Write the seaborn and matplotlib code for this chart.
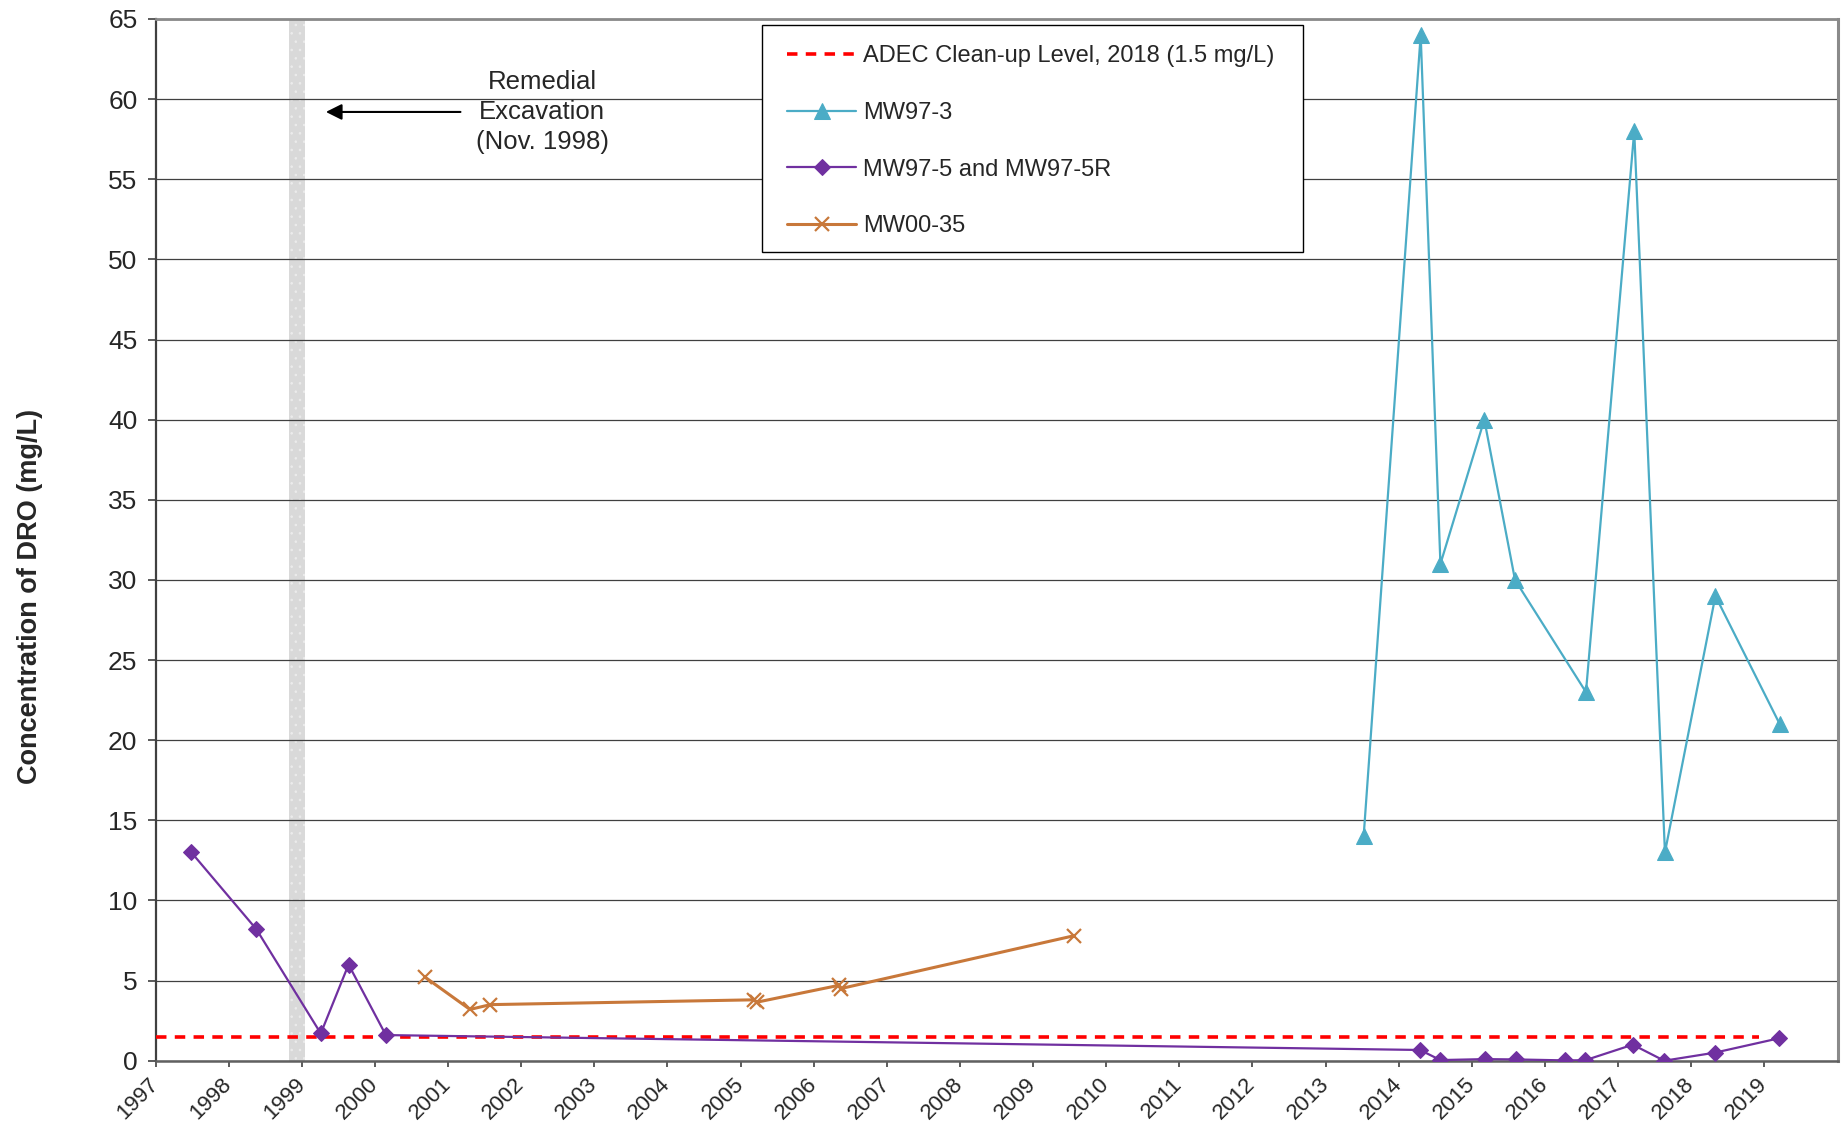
import numpy as np
import pandas as pd
import matplotlib
matplotlib.use("Agg")
import matplotlib.pyplot as plt
from matplotlib.patches import Rectangle
from matplotlib.transforms import ScaledTranslation
import seaborn as sns

# ---------------- data (decimal years, mg/L) ----------------
mw97_3_dates = [2013.52, 2014.30, 2014.57, 2015.17, 2015.59, 2016.56, 2017.22, 2017.64, 2018.33, 2019.21]
mw97_3_dro = [14, 64, 31, 40, 30, 23, 58, 13, 29, 21]

mw97_5_dates = [1997.49, 1998.38, 1999.26, 1999.64, 2000.15, 2014.29, 2014.57, 2015.18,
                2015.60, 2016.28, 2016.55, 2017.20, 2017.63, 2018.32, 2019.20]
mw97_5_dro = [13.0, 8.2, 1.7, 6.0, 1.6, 0.67, 0.04, 0.1, 0.08, 0.02, 0.03, 1.0, 0.0, 0.5, 1.4]

mw00_35_dates = [2000.69, 2001.30, 2001.58, 2005.18, 2005.22, 2006.34, 2006.37, 2009.56]
mw00_35_dro = [5.2, 3.2, 3.5, 3.8, 3.65, 4.7, 4.5, 7.8]

cleanup_level = 1.5
cleanup_dates = [1997.0, 2018.92]
excavation_span = [1998.82, 1999.05]

year_ticks = list(range(1997, 2020))
y_ticks = list(range(0, 70, 5))

label_cleanup = "ADEC Clean-up Level, 2018 (1.5 mg/L)"
label_3 = "MW97-3"
label_5 = "MW97-5 and MW97-5R"
label_35 = "MW00-35"

# ---------------- styling ----------------
sns.set_style("white")
plt.rcParams["font.family"] = ["Liberation Sans", "DejaVu Sans"]
plt.rcParams["hatch.linewidth"] = 0.6

c_cyan = "#4BACC6"
c_purple = "#7030A0"
c_orange = "#C8783A"
c_red = "#FF0000"

fig = plt.figure(figsize=(18.49, 11.24), dpi=100)
ax = fig.add_axes([0.0841, 0.0563, 0.9097, 0.9268])

ax.axvspan(excavation_span[0], excavation_span[1], facecolor="#d9d9d9", edgecolor="#ececec",
           hatch="..", lw=0, zorder=0.5)

df_clean = pd.DataFrame({"date": cleanup_dates, "dro": [cleanup_level] * len(cleanup_dates)})
df3 = pd.DataFrame({"date": mw97_3_dates, "dro": mw97_3_dro})
df5 = pd.DataFrame({"date": mw97_5_dates, "dro": mw97_5_dro})
df35 = pd.DataFrame({"date": mw00_35_dates, "dro": mw00_35_dro})

sns.lineplot(data=df_clean, x="date", y="dro", ax=ax, color=c_red, lw=2.6,
             dashes=False, estimator=None, sort=False, label=label_cleanup, zorder=3)
ax.lines[-1].set_dashes((2.9, 2.3))
sns.lineplot(data=df3, x="date", y="dro", ax=ax, color=c_cyan, lw=1.6, marker="^",
             markersize=11, markeredgecolor=c_cyan, estimator=None, sort=False,
             label=label_3, zorder=4)
sns.lineplot(data=df5, x="date", y="dro", ax=ax, color=c_purple, lw=1.6, marker="D",
             markersize=8.5, markeredgecolor=c_purple, estimator=None, sort=False,
             label=label_5, zorder=4)
sns.lineplot(data=df35, x="date", y="dro", ax=ax, color=c_orange, lw=2.2, marker="x",
             markersize=10, markeredgewidth=1.6, markeredgecolor=c_orange,
             markerfacecolor=c_orange, estimator=None, sort=False,
             label=label_35, zorder=4)

# axes
ax.set_xlim(1997, 2020)
ax.set_ylim(0, 65)
ax.set_xticks(year_ticks)
ax.set_xticklabels([str(y) for y in year_ticks], rotation=45, ha="right", va="center",
                   rotation_mode="anchor", fontsize=16)
offset = ScaledTranslation(-2 / 72, 0, fig.dpi_scale_trans)
for lab in ax.get_xticklabels():
    lab.set_transform(lab.get_transform() + offset)
ax.set_yticks(y_ticks)
ax.set_yticklabels([str(v) for v in y_ticks], fontsize=19)
ax.tick_params(axis="y", direction="out", length=6, width=1.2, color="#404040", pad=7, left=True)
ax.tick_params(axis="x", direction="out", length=4.5, width=1.2, color="#404040", pad=10, bottom=True)

ax.yaxis.grid(True, color="#404040", lw=0.9)
ax.xaxis.grid(False)
ax.set_axisbelow(True)

ax.spines["left"].set_color("#404040"); ax.spines["left"].set_linewidth(1.6)
ax.spines["bottom"].set_color("#606060"); ax.spines["bottom"].set_linewidth(1.8)
ax.spines["top"].set_color("#8a8a8a"); ax.spines["top"].set_linewidth(2.0)
ax.spines["right"].set_color("#8a8a8a"); ax.spines["right"].set_linewidth(2.2)

ax.set_xlabel("")
ax.set_ylabel("Concentration of DRO (mg/L)", fontsize=19.5, fontweight="bold")
ax.yaxis.set_label_coords(-0.067, 0.446)

# annotation
ax.annotate("", xy=(1999.33, 59.2), xytext=(2001.17, 59.2),
            arrowprops=dict(arrowstyle="-|>", color="black", lw=1.5, mutation_scale=24,
                            shrinkA=0, shrinkB=0), zorder=5)
ax.text(2002.29, 59.2, "Remedial\nExcavation\n(Nov. 1998)", ha="center", va="center",
        multialignment="center", fontsize=18.5, linespacing=1.3, zorder=5)

# legend with manual frame
handles, labels = ax.get_legend_handles_labels()
order = [label_cleanup, label_3, label_5, label_35]
hmap = dict(zip(labels, handles))
frame = Rectangle((0.3606, 0.776), 0.682 - 0.3606, 0.9943 - 0.776, transform=ax.transAxes,
                  facecolor="white", edgecolor="black", lw=1.0, zorder=6)
ax.add_patch(frame)
leg = ax.legend([hmap[l] for l in order], order, loc="upper left",
                bbox_to_anchor=(0.3757, 0.9749), borderaxespad=0, borderpad=0,
                frameon=False, fontsize=17, handlelength=2.92, handletextpad=0.3,
                labelspacing=1.47, numpoints=1)
leg.set_zorder(7)

fig.savefig("out.png", dpi=100)
